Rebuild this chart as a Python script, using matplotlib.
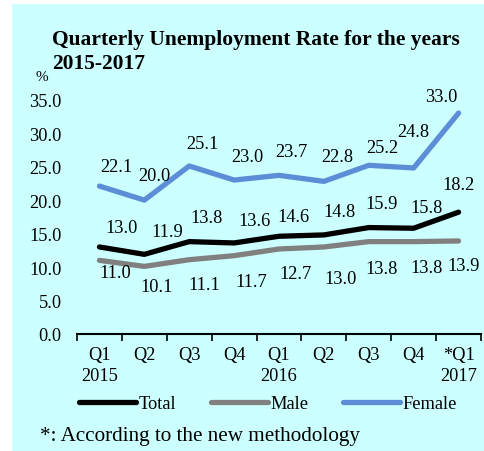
import matplotlib
matplotlib.use('Agg')
from matplotlib import pyplot as plt
from matplotlib.patches import Rectangle

plt.rcParams['font.family'] = ['Liberation Serif', 'DejaVu Serif']

quarters = ['Q1\n2015', 'Q2', 'Q3', 'Q4', 'Q1\n2016', 'Q2', 'Q3', 'Q4', '*Q1\n2017']
total = [13.0, 11.9, 13.8, 13.6, 14.6, 14.8, 15.9, 15.8, 18.2]
male = [11.0, 10.1, 11.1, 11.7, 12.7, 13.0, 13.8, 13.8, 13.9]
female = [22.1, 20.0, 25.1, 23.0, 23.7, 22.8, 25.2, 24.8, 33.0]
yticks = [0, 5, 10, 15, 20, 25, 30, 35]

# label offsets in pixels (dx, dy up)
off_total = [(22, 19), (23, 23), (17, 24), (20, 22), (14, 20), (16, 23), (13, 24), (13, 21), (0, 28)]
off_male = [(16, -12), (12, -20), (15, -25), (17, -26), (16, -25), (17, -32), (13, -27), (13, -26), (5, -25)]
off_female = [(17, 20), (10, 25), (13, 22), (13, 24), (12, 24), (13, 25), (14, 18), (0, 36), (-17, 17)]

bg = '#CCFFFF'
fs = 13.2

fig = plt.figure(figsize=(4.84, 4.52), dpi=100, facecolor='white')
fig.patches.append(Rectangle((12 / 484, 0), 1, 1 - 5 / 452, transform=fig.transFigure,
                             facecolor=bg, edgecolor='none', zorder=-10))

ax = fig.add_axes([77 / 484, 1 - 335 / 452, 404 / 484, 234.3 / 452])
ax.set_facecolor('none')

x = list(range(len(quarters)))
series = [
    (total, 'Total', 'black', off_total),
    (male, 'Male', '#808080', off_male),
    (female, 'Female', '#5B8ED6', off_female),
]
for vals, name, col, offs in series:
    ax.plot(x, vals, color=col, lw=3.8, label=name, solid_capstyle='round')
    for xi, v, (dx, dy) in zip(x, vals, offs):
        ax.annotate(f'{v:.1f}', (xi, v), xytext=(dx, dy), textcoords='offset pixels',
                    ha='center', va='center', fontsize=fs, clip_on=False)

ax.set_xlim(-0.5, len(quarters) - 0.5)
ax.set_ylim(0, 35)
ax.set_yticks(yticks)
ax.set_yticklabels([f'{t:.1f}' for t in yticks], fontsize=fs)
ax.tick_params(axis='y', length=0, pad=11)

ax.set_xticks(x)
ax.set_xticklabels(quarters, fontsize=fs, linespacing=1.25)
ax.set_xticks([i - 0.5 for i in range(len(quarters) + 1)], minor=True)
ax.tick_params(axis='x', which='major', length=0, pad=9)
ax.tick_params(axis='x', which='minor', length=5, width=1.2, direction='out')

for s in ['top', 'right', 'left']:
    ax.spines[s].set_visible(False)
ax.spines['bottom'].set_linewidth(1.5)

fig.text(52 / 484, 1 - 52 / 452, 'Quarterly Unemployment Rate for the years\n2015-2017',
         fontsize=15.5, fontweight='bold', ha='left', va='center', linespacing=1.25)
fig.text(42 / 484, 1 - 78 / 452, '%', fontsize=11, ha='center', va='center')

fig.legend(loc='center', bbox_to_anchor=(268 / 484, 1 - 405 / 452), ncol=3, frameon=False,
           fontsize=fs, handlelength=3.1, handletextpad=0.15, columnspacing=1.9,
           borderpad=0)

fig.text(40 / 484, 1 - 437 / 452, '*: According to the new methodology',
         fontsize=15.2, ha='left', va='center')

fig.savefig('out.png', dpi=100, facecolor='white')
